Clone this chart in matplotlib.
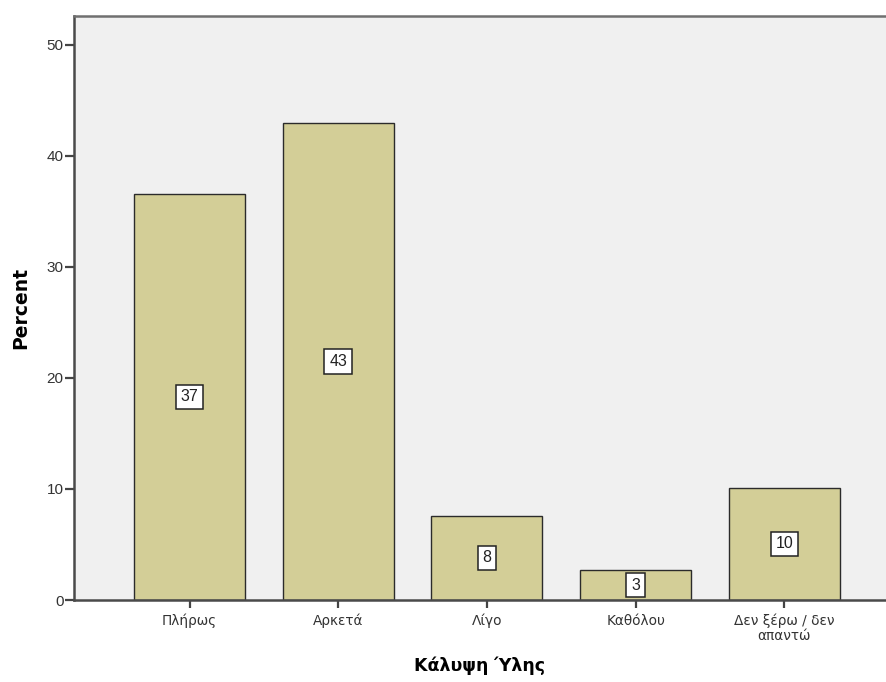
import matplotlib
matplotlib.use("Agg")
import matplotlib.pyplot as plt

categories = ["Πλήρως", "Αρκετά", "Λίγο", "Καθόλου", "Δεν ξέρω / δεν\nαπαντώ"]
percent = [36.6, 43.0, 7.6, 2.7, 10.1]
bar_labels = ["37", "43", "8", "3", "10"]
yticks = [0, 10, 20, 30, 40, 50]

plt.rcParams['font.family'] = ['Liberation Sans', 'DejaVu Sans']

fig = plt.figure(figsize=(8.86, 6.82), dpi=100)
ax = fig.add_axes([74/886, 82/682, (886-74)/886, (600-16)/682])
ax.set_facecolor('#F0F0F0')

x = list(range(len(categories)))
ax.bar(x, percent, width=0.747, color='#D3CE97', edgecolor='#2b2b2b', linewidth=1.0, zorder=2)

for xi, v, lab in zip(x, percent, bar_labels):
    ax.text(xi, v / 2, lab, ha='center', va='center', fontsize=11.5, color='#222222',
            bbox=dict(boxstyle='square,pad=0.3', facecolor='white', edgecolor='#222222', linewidth=1.1),
            zorder=3)

ax.set_xlim(-0.777, 4.684)
ax.set_ylim(0, 52.6)
ax.set_yticks(yticks)
ax.set_xticks(x)
ax.set_xticklabels(categories, fontsize=9.8, color='#333333', linespacing=1.05,
                   family=['DejaVu Sans'])
ax.tick_params(axis='y', labelsize=11, labelcolor='#333333', length=6.5, width=1.6, color='#444444', direction='out', pad=1)
ax.tick_params(axis='x', length=6, width=1.6, color='#444444', direction='out', pad=4)

for s in ['left', 'bottom', 'top']:
    ax.spines[s].set_color('#4a4a4a')
    ax.spines[s].set_linewidth(1.8)
ax.spines['top'].set_color('#707070')
ax.spines['right'].set_visible(False)

ax.set_ylabel('Percent', fontsize=13.5, fontweight='bold', labelpad=12, family=['DejaVu Sans'])
ax.set_xlabel('Κάλυψη Ύλης', fontsize=12.5, fontweight='bold', labelpad=10, family=['DejaVu Sans'])

fig.savefig('out.png', dpi=100)
